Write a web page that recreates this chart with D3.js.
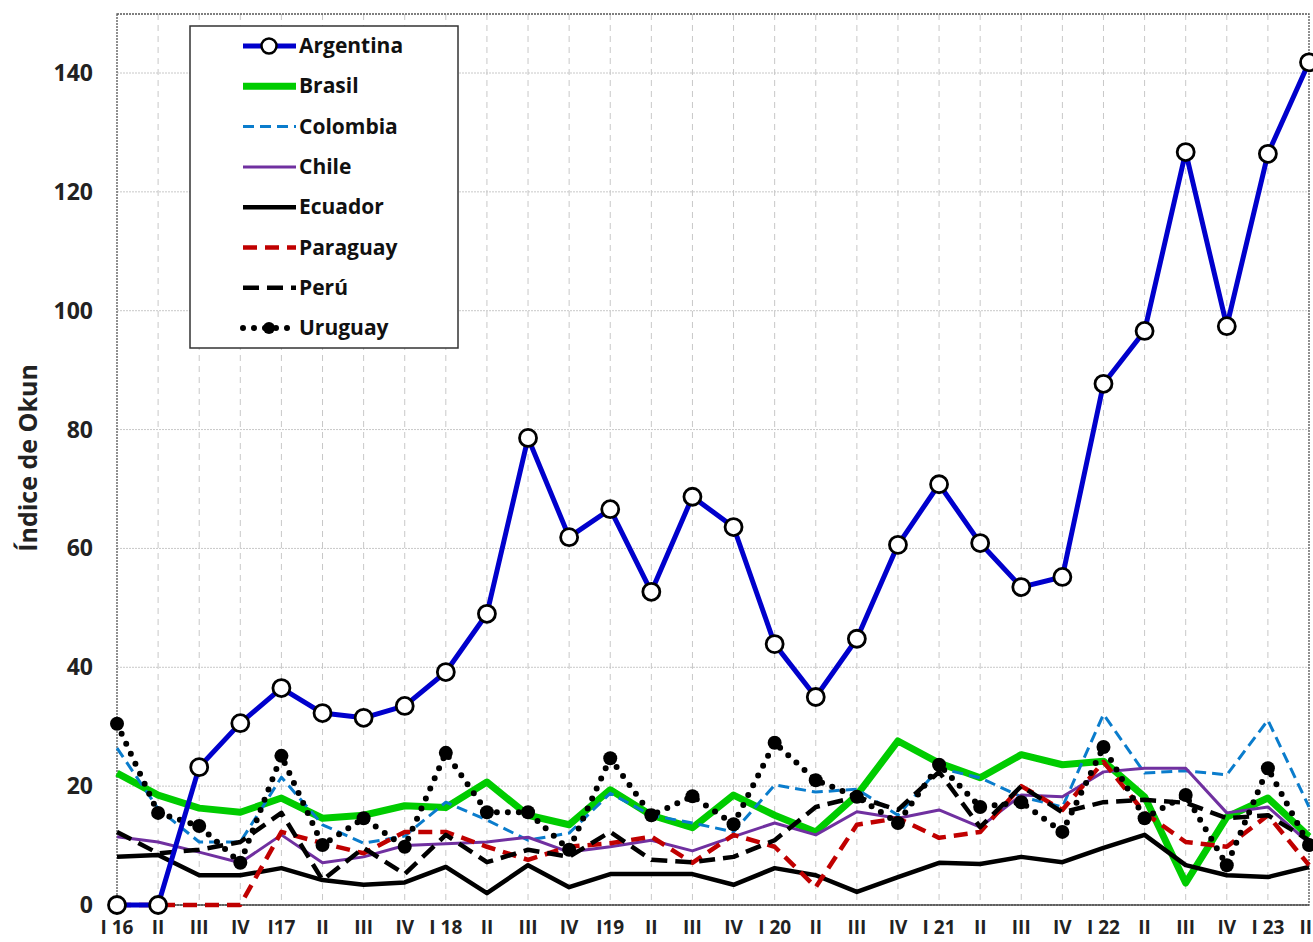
<!DOCTYPE html>
<html>
<head>
<meta charset="utf-8">
<script src="https://cdn.jsdelivr.net/npm/d3@7"></script>
<style>
  body { margin: 0; background: #fff; }
  svg { font-family: "Open Sans", "Noto Sans", sans-serif; font-weight: bold; }
</style>
</head>
<body>
<svg width="1313" height="942"></svg>
<script>
// Quarters, 2016 Q1 to 2023 Q2
const quarters = ['I 16','II','III','IV','I17','II','III','IV','I 18','II','III','IV','I19','II','III','IV',
                  'I 20','II','III','IV','I 21','II','III','IV','I 22','II','III','IV','I 23','II'];
const yTicks = [0, 20, 40, 60, 80, 100, 120, 140];

const argentina = [0, 0, 23.2, 30.6, 36.5, 32.3, 31.5, 33.5, 39.2, 49, 78.6, 61.9, 66.6, 52.7, 68.7, 63.6,
                   43.9, 35, 44.8, 60.6, 70.8, 60.9, 53.5, 55.2, 87.7, 96.6, 126.7, 97.4, 126.4, 141.8];
const brasil = [22.2, 18.5, 16.3, 15.6, 18, 14.6, 15.1, 16.7, 16.4, 20.7, 15.1, 13.5, 19.4, 15.1, 13, 18.5,
                15.1, 12.3, 18.5, 27.6, 23.9, 21.4, 25.3, 23.6, 24.2, 18.2, 3.7, 14.8, 18, 11.5];
const colombia = [26.4, 16.2, 10.6, 10.6, 21.5, 13.5, 10.4, 11.6, 17.3, 14.3, 10.9, 12.1, 18.8, 15.1, 13.8, 12.3,
                  20.2, 19, 19.5, 15.1, 23, 21.4, 18.2, 16.5, 32.1, 22.2, 22.6, 21.9, 31.1, 16.5];
const chile = [11.5, 10.6, 8.9, 7.1, 11.8, 7.1, 8.1, 10, 10.3, 10.6, 11.4, 8.9, 9.8, 10.9, 9.1, 11.5,
               13.8, 11.8, 15.7, 14.6, 16, 13.1, 18.5, 18.2, 22.4, 23, 23, 15.5, 16.5, 10.4];
const ecuador = [8.1, 8.4, 5, 5, 6.2, 4.2, 3.4, 3.8, 6.4, 2, 6.7, 3, 5.2, 5.2, 5.2, 3.4,
                 6.2, 5, 2.2, 4.7, 7.1, 6.9, 8.1, 7.2, 9.6, 11.8, 6.7, 5, 4.7, 6.4];
const paraguay = [0, 0, 0, 0, 12.3, 10.4, 8.7, 12.3, 12.3, 9.8, 7.6, 9.8, 10.4, 11.5, 7.1, 11.8,
                  9.8, 3, 13.5, 14.6, 11.3, 12.3, 20, 16, 24.1, 15.5, 10.6, 9.8, 15.1, 6.7];
const peru = [12.3, 8.7, 9.3, 10.6, 15.5, 4.2, 9.6, 5.2, 11.8, 7.2, 9.3, 8.1, 12.3, 7.6, 7.2, 8.1,
              10.9, 16.5, 18.2, 16, 22.4, 13.1, 20, 15.6, 17.3, 17.7, 17.2, 14.6, 15.1, 10.9];
const uruguay = [30.5, 15.5, 13.3, 7.1, 25.1, 10.1, 14.6, 9.8, 25.6, 15.6, 15.6, 9.3, 24.7, 15.1, 18.3, 13.6,
                 27.3, 21, 18.2, 13.8, 23.6, 16.5, 17.3, 12.3, 26.6, 14.6, 18.5, 6.7, 23, 10.1];

const series = [
  { name: 'Argentina', values: argentina, color: '#0000cc', width: 5, dash: null, marker: 'ring' },
  { name: 'Brasil', values: brasil, color: '#00cc00', width: 7, dash: null },
  { name: 'Colombia', values: colombia, color: '#0a7ccc', width: 3, dash: '11,6' },
  { name: 'Chile', values: chile, color: '#7030a0', width: 3, dash: null },
  { name: 'Ecuador', values: ecuador, color: '#000', width: 4.5, dash: null },
  { name: 'Paraguay', values: paraguay, color: '#c00000', width: 4.5, dash: '14,8' },
  { name: 'Perú', values: peru, color: '#000', width: 4.5, dash: '16,8' },
  { name: 'Uruguay', values: uruguay, color: '#000', width: 6, dash: '0,11', cap: 'round', marker: 'dot' }
];

const svg = d3.select('svg');
const margin = { top: 14, right: 4, bottom: 37, left: 117 };
const W = 1313, H = 942;

const x = d3.scalePoint().domain(d3.range(quarters.length)).range([margin.left, W - margin.right]);
const y = d3.scaleLinear().domain([0, 140]).range([H - margin.bottom, H - margin.bottom - 832]);

// Grid
svg.append('g').selectAll('line')
  .data(yTicks.filter(d => d > 0))
  .enter().append('line')
  .attr('x1', margin.left).attr('x2', W - margin.right)
  .attr('y1', d => y(d)).attr('y2', d => y(d))
  .attr('stroke', '#c8c8c8').attr('stroke-width', 1).attr('stroke-dasharray', '2,1');

svg.append('g').selectAll('line')
  .data(d3.range(1, quarters.length - 1))
  .enter().append('line')
  .attr('x1', d => x(d)).attr('x2', d => x(d))
  .attr('y1', margin.top).attr('y2', y(0))
  .attr('stroke', '#c8c8c8').attr('stroke-width', 1).attr('stroke-dasharray', '6,5');

// Frame
svg.append('rect')
  .attr('x', margin.left).attr('y', margin.top)
  .attr('width', W - margin.right - margin.left).attr('height', y(0) - margin.top)
  .attr('fill', 'none').attr('stroke', '#555').attr('stroke-width', 1.3).attr('stroke-dasharray', '2,1');
svg.append('line')
  .attr('x1', margin.left).attr('x2', W - margin.right)
  .attr('y1', y(0)).attr('y2', y(0))
  .attr('stroke', '#555').attr('stroke-width', 1.5);

// Axis labels
svg.append('g').selectAll('text')
  .data(yTicks)
  .enter().append('text')
  .attr('x', 93).attr('y', d => y(d) + 8)
  .attr('text-anchor', 'end').attr('font-size', 23).attr('fill', '#222')
  .text(d => d);

const last = quarters.length - 1;
svg.append('g').selectAll('text')
  .data(quarters)
  .enter().append('text')
  .attr('x', (d, i) => i === last ? W - 1 : x(i)).attr('y', 934)
  .attr('text-anchor', (d, i) => i === last ? 'end' : 'middle')
  .attr('font-size', 19).attr('fill', '#222')
  .text(d => d);

svg.append('text')
  .attr('transform', 'translate(37,458) rotate(-90)')
  .attr('text-anchor', 'middle').attr('font-size', 25).attr('fill', '#222')
  .text('Índice de Okun');

// Lines (draw Argentina last so it sits on top)
const line = d3.line().x((d, i) => x(i)).y(d => y(d));
const order = series.slice(1).concat(series[0]);

order.forEach(s => {
  svg.append('path')
    .datum(s.values)
    .attr('d', line)
    .attr('fill', 'none')
    .attr('stroke', s.color)
    .attr('stroke-width', s.width)
    .attr('stroke-dasharray', s.dash)
    .attr('stroke-linecap', s.cap || 'butt')
    .attr('stroke-linejoin', 'round');

  if (s.marker === 'ring') {
    svg.append('g').selectAll('circle')
      .data(s.values).enter().append('circle')
      .attr('cx', (d, i) => x(i)).attr('cy', d => y(d)).attr('r', 8.5)
      .attr('fill', '#fff').attr('stroke', '#000').attr('stroke-width', 2.8);
  } else if (s.marker === 'dot') {
    svg.append('g').selectAll('circle')
      .data(s.values).enter().append('circle')
      .attr('cx', (d, i) => x(i)).attr('cy', d => y(d)).attr('r', 7)
      .attr('fill', '#000');
  }
});

// Legend
const legend = svg.append('g').attr('transform', 'translate(190,26)');
legend.append('rect')
  .attr('width', 268).attr('height', 322)
  .attr('fill', '#fff').attr('stroke', '#333').attr('stroke-width', 1.5);

const item = legend.selectAll('g.item')
  .data(series).enter().append('g')
  .attr('class', 'item')
  .attr('transform', (d, i) => `translate(0,${20 + i * 40.3})`);

item.append('line')
  .attr('x1', 53).attr('x2', 106).attr('y1', 0).attr('y2', 0)
  .attr('stroke', d => d.color)
  .attr('stroke-width', d => d.width)
  .attr('stroke-dasharray', d => d.dash)
  .attr('stroke-linecap', d => d.cap || 'butt');

item.filter(d => d.marker === 'ring').append('circle')
  .attr('cx', 79).attr('cy', 0).attr('r', 7.5)
  .attr('fill', '#fff').attr('stroke', '#000').attr('stroke-width', 2.5);
item.filter(d => d.marker === 'dot').append('circle')
  .attr('cx', 79).attr('cy', 0).attr('r', 6)
  .attr('fill', '#000');

item.append('text')
  .attr('x', 109).attr('y', 7)
  .attr('font-size', 21).attr('fill', '#111')
  .text(d => d.name);
</script>
</body>
</html>
